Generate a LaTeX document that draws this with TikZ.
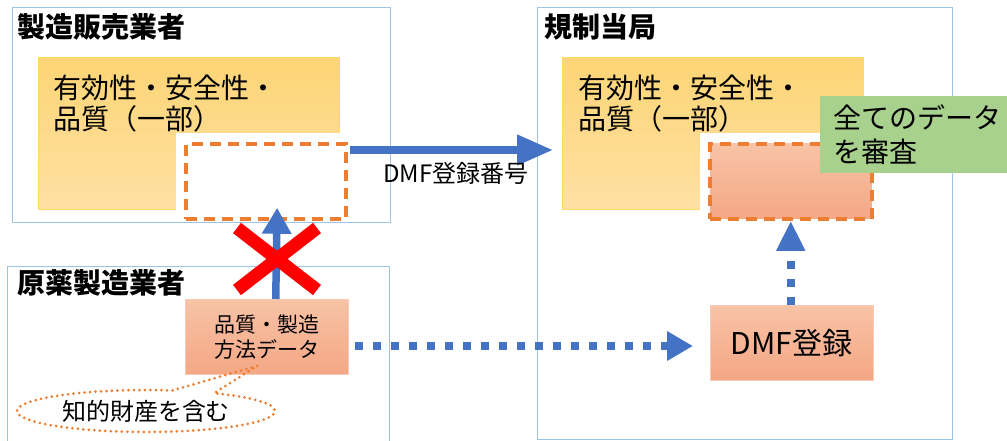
\documentclass[tikz,border=0pt]{standalone}
\usepackage{fontspec}
\setmainfont{Noto Sans CJK JP}
\usetikzlibrary{arrows.meta,shapes.callouts,calc}
\definecolor{framec}{HTML}{9DC3E6}
\definecolor{ytop}{HTML}{FDD575}
\definecolor{ybot}{HTML}{FEE0A3}
\definecolor{yline}{HTML}{FFD966}
\definecolor{stop}{HTML}{F8C3A6}
\definecolor{sbot}{HTML}{F4A785}
\definecolor{orng}{HTML}{ED7D31}
\definecolor{blu}{HTML}{4472C4}
\definecolor{grn}{HTML}{A9D18E}
\definecolor{redx}{HTML}{FF0000}
\tikzset{
  framebox/.style={draw=framec, line width=1.2pt, anchor=north west, inner sep=0},
  yellowbox/.style={draw=yline, line width=0.6pt, top color=ytop, bottom color=ybot, anchor=north west, inner sep=0},
  whitebox/.style={fill=white, anchor=north west, inner sep=0},
  dashbox/.style={draw=orng, line width=3.8pt, dash pattern=on 11pt off 7pt, anchor=north west, inner sep=0},
  salmonbox/.style={draw=sbot!60!white, line width=0.5pt, top color=stop, bottom color=sbot, anchor=north west, align=center},
  titletext/.style={font=\fontsize{28}{32}\selectfont\bfseries, anchor=west, inner sep=0},
  bodytext/.style={font=\fontsize{28}{31}\selectfont, anchor=north west, align=left, inner sep=0},
  bluearrow/.style={draw=blu, line width=7.5pt},
  dotarrow/.style={draw=blu, line width=8pt, dash pattern=on 8pt off 10pt},
}
\begin{document}
\begin{tikzpicture}[x=1pt,y=-1pt]
\useasboundingbox (0,0) rectangle (1007,441);
% frames
\node[framebox, minimum width=378pt, minimum height=215pt] (mfr) at (12,7) {};
\node[framebox, minimum width=415pt, minimum height=432pt] (reg) at (537,7) {};
\node[framebox, minimum width=382pt, minimum height=190pt] (api) at (7,266) {};
% titles
\node[titletext] (mfrt) at (17,27) {製造販売業者};
\node[titletext] (regt) at (544,27) {規制当局};
\node[titletext] (apit) at (17,283) {原薬製造業者};
% left yellow block
\node[yellowbox, minimum width=301pt, minimum height=152pt] (y1) at (38,57) {};
\node[bodytext] (y1t) at (53,75) {有効性・安全性・\\品質（一部）};
\node[whitebox, minimum width=169pt, minimum height=84pt] (w1) at (176,133) {};
\node[dashbox, minimum width=160pt, minimum height=75pt] (d1) at (184,142) {};
% right yellow block
\node[yellowbox, minimum width=301pt, minimum height=152pt] (y2) at (562,57) {};
\node[bodytext] (y2t) at (578,75) {有効性・安全性・\\品質（一部）};
\node[whitebox, minimum width=170pt, minimum height=84pt] (w2) at (700,133) {};
\node[dashbox, top color=stop, bottom color=sbot, minimum width=162pt, minimum height=75pt] (d2) at (708,142) {};
\node[fill=grn, anchor=north west, minimum width=187pt, minimum height=77pt, text width=170pt, inner xsep=13pt, inner ysep=0pt, align=left, font=\fontsize{28}{34}\selectfont] (g) at (820,96) {全てのデータ\\を審査\\[-6pt]};
% source data
\node[salmonbox, minimum width=163pt, minimum height=75pt, font=\fontsize{21}{25}\selectfont] (src) at (185,299) {品質・製造\\方法データ};
% DMF registration
\node[salmonbox, minimum width=163pt, minimum height=75pt, font=\fontsize{30}{34}\selectfont] (dmf) at (710,305) {DMF登録};
% IP callout
\node[ellipse callout, draw=orng, line width=3pt, dash pattern=on 0pt off 5.5pt, line cap=round,
      minimum width=258pt, minimum height=42pt, inner sep=0, callout absolute pointer={(257,366)},
      callout pointer arc=20, font=\fontsize{24}{28}\selectfont] (ip) at (146,411) {知的財産を含む};
% arrows
\draw[bluearrow, -{Triangle[length=26pt,width=28pt]}, shorten >=-13pt]
  ([xshift=9pt]src.north) -- ([xshift=11pt]d1.south);
\coordinate (ns) at (350,150);
\draw[bluearrow, -{Triangle[length=36pt,width=29pt]}, shorten >=9pt] (ns) -- (y2.west |- ns);
\node[font=\fontsize{24}{28}\selectfont, inner sep=0] (lbl) at (456,173) {DMF登録番号};
\coordinate (hs) at (355,346);
\draw[dotarrow, -{Triangle[length=26pt,width=28pt]}, shorten >=17pt] (hs) -- (dmf.west |- hs);
\draw[dotarrow, -{Triangle[length=30pt,width=27pt]}] ([xshift=-1pt]dmf.north) -- ([xshift=-1pt]dmf.north |- d2.south);
% red cross
\coordinate (xc) at (277,259);
\draw[redx, line width=13pt] ([shift={(-40,-31)}]xc) -- ([shift={(40,31)}]xc);
\draw[redx, line width=13pt] ([shift={(40,-31)}]xc) -- ([shift={(-40,31)}]xc);
\end{tikzpicture}
\end{document}
